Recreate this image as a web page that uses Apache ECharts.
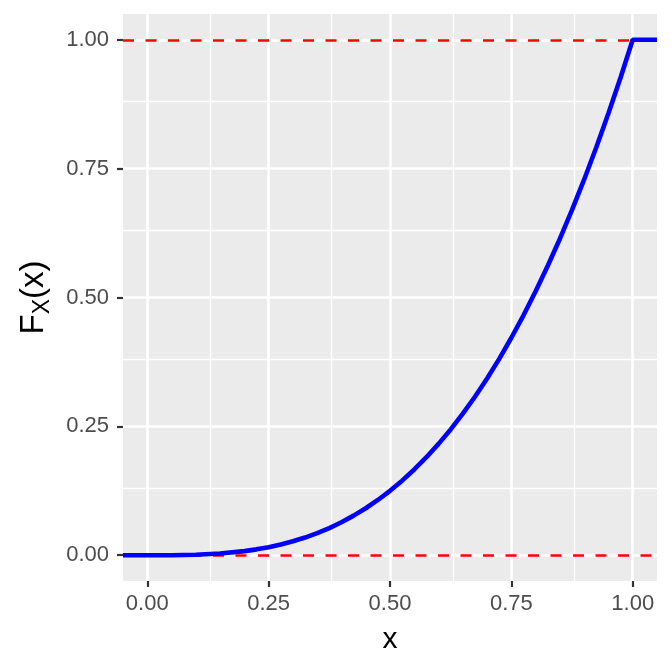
<!DOCTYPE html>
<html>
<head>
<meta charset="utf-8">
<script src="https://cdn.jsdelivr.net/npm/echarts@6/dist/echarts.min.js"></script>
<style>
html,body{margin:0;padding:0;background:#fff;}
#chart{width:672px;height:672px;}
</style>
</head>
<body>
<div id="chart"></div>
<script>
// Values
const cdfX = [-0.05, 0, 0.05, 0.1, 0.15, 0.2, 0.225, 0.25, 0.275, 0.3, 0.325, 0.35, 0.375, 0.4, 0.425, 0.45, 0.475, 0.5, 0.525, 0.55, 0.575, 0.6, 0.625, 0.65, 0.675, 0.7, 0.725, 0.75, 0.775, 0.8, 0.825, 0.85, 0.875, 0.9, 0.925, 0.95, 0.975, 1.0, 1.05];
const cdfY = [0, 0, 0.0001, 0.001, 0.0034, 0.008, 0.0114, 0.0156, 0.0208, 0.027, 0.0343, 0.0429, 0.0527, 0.064, 0.0768, 0.0911, 0.1072, 0.125, 0.1447, 0.1664, 0.1901, 0.216, 0.2441, 0.2746, 0.3075, 0.343, 0.381, 0.4219, 0.4655, 0.512, 0.5615, 0.6141, 0.6699, 0.729, 0.7915, 0.8574, 0.9269, 1.0, 1.0];
const xTicks = [0, 0.25, 0.5, 0.75, 1.0];
const yTicks = [0, 0.25, 0.5, 0.75, 1.0];
const xMinor = [0.125, 0.375, 0.625, 0.875];
const yMinor = [0.125, 0.375, 0.625, 0.875];
const refLines = [0, 1];
const xRange = [-0.05, 1.05];
const yRange = [-0.05, 1.05];

const FONT = 'Liberation Sans, Arial, sans-serif';
const chart = echarts.init(document.getElementById('chart'));

const gridLineData = [];
xMinor.forEach(v => gridLineData.push({xAxis: v, lineStyle: {color: '#fff', width: 1.3, type: 'solid'}}));
yMinor.forEach(v => gridLineData.push({yAxis: v, lineStyle: {color: '#fff', width: 1.3, type: 'solid'}}));
xTicks.forEach(v => gridLineData.push({xAxis: v, lineStyle: {color: '#fff', width: 2.6, type: 'solid'}}));
yTicks.forEach(v => gridLineData.push({yAxis: v, lineStyle: {color: '#fff', width: 2.6, type: 'solid'}}));

const option = {
  animation: false,
  textStyle: {fontFamily: FONT},
  grid: {
    left: 123, right: 15, top: 14, bottom: 91,
    show: true, backgroundColor: '#EBEBEB', borderWidth: 0
  },
  xAxis: {
    type: 'value', min: xRange[0], max: xRange[1],
    name: 'x', nameLocation: 'middle', nameGap: 44,
    nameTextStyle: {fontSize: 30, color: '#000', fontFamily: FONT},
    axisLine: {show: true, onZero: false, lineStyle: {color: 'rgba(0,0,0,0)'}},
    axisTick: {show: true, customValues: xTicks, length: 6, lineStyle: {color: '#333', width: 2.2}},
    axisLabel: {customValues: xTicks, formatter: v => v.toFixed(2), fontSize: 22, color: '#4D4D4D', margin: 12, fontFamily: FONT},
    splitLine: {show: false}
  },
  yAxis: {
    type: 'value', min: yRange[0], max: yRange[1],
    name: '{f|F}{s|X}{f|(x)}', nameLocation: 'middle', nameGap: 73, nameRotate: 90,
    nameTextStyle: {
      fontSize: 33, color: '#000', fontFamily: FONT,
      rich: {
        f: {fontSize: 33, lineHeight: 37, color: '#000', fontFamily: FONT, verticalAlign: 'bottom'},
        s: {fontSize: 23, lineHeight: 23, color: '#000', fontFamily: FONT, verticalAlign: 'bottom', padding: [0, 0, -4, 0]}
      }
    },
    axisLine: {show: true, onZero: false, lineStyle: {color: 'rgba(0,0,0,0)'}},
    axisTick: {show: true, customValues: yTicks, length: 6, lineStyle: {color: '#333', width: 2.2}},
    axisLabel: {customValues: yTicks, formatter: v => v.toFixed(2), fontSize: 22, color: '#4D4D4D', margin: 14, fontFamily: FONT},
    splitLine: {show: false}
  },
  series: [
    {
      type: 'line', data: [], silent: true, z: 1,
      markLine: {silent: true, z: 1, symbol: 'none', label: {show: false}, animation: false, data: gridLineData}
    },
    {
      type: 'line', data: [], silent: true, z: 2,
      markLine: {
        silent: true, z: 2, symbol: 'none', label: {show: false}, animation: false,
        lineStyle: {color: '#FF0000', width: 2.7, type: [11, 11.5]},
        data: refLines.map(v => ({yAxis: v}))
      }
    },
    {
      type: 'line', z: 3, silent: true,
      data: cdfX.map((x, i) => [x, cdfY[i]]),
      showSymbol: false, symbol: 'none',
      lineStyle: {color: '#0000FF', width: 4.6}
    }
  ]
};
chart.setOption(option);
</script>
</body>
</html>
